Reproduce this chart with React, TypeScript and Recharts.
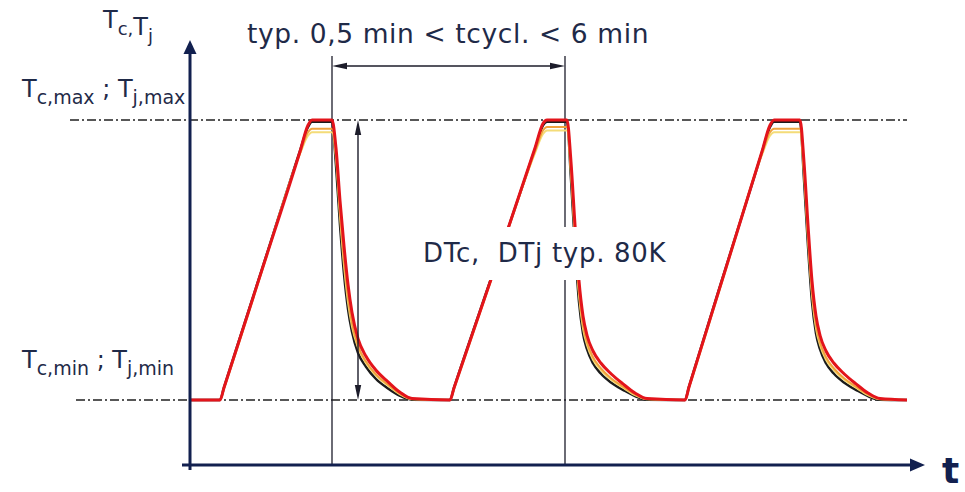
import type { ReactElement } from 'react'
import { LineChart, Line, XAxis, YAxis, ReferenceLine, ReferenceArea, ReferenceDot } from 'recharts'

// time in s, temperature in °C (Tmin = 40, Tmax = 120 -> DT 80K)
const TIME = [
  0, 15, 17, 36, 55, 59, 61, 71, 73, 75, 77, 79, 81, 84, 88, 93, 99, 105, 111,
  130, 132, 151, 172.5, 176.5, 178.5, 188.5, 190.5, 192.5, 194.5, 196.5, 198.5, 201.5, 205.5, 210.5, 216.5, 222.5, 228.5,
  247.5, 249.5, 268, 286, 290, 292, 305, 307, 309, 311, 313, 315, 318, 322, 327, 333, 339, 345, 358.5,
]

const T_BLACK = [
  40, 40, 43.6, 77.4, 111.2, 118, 119.5, 119.5, 107, 90, 76, 66, 59.5, 53.5, 49.5, 46, 43.3, 41.2, 40.1,
  40, 43.5, 75.5, 111.7, 118.5, 119.5, 119.5, 103, 84, 68, 59, 54.5, 50.5, 47.5, 45, 42.9, 41.1, 40.1,
  40, 43.8, 78, 110.8, 118, 119.5, 119.5, 103, 84, 68, 59, 54.5, 50.5, 47.5, 45, 42.9, 41.1, 40.1, 40,
]

const T_YELLOW = [
  40, 40, 43.3, 76.8, 110.3, 115.5, 116.5, 116.5, 109, 92.5, 78.5, 68, 61, 55, 50.5, 47, 44.1, 41.6, 40.2,
  40, 43.2, 75, 110.5, 116, 117, 117, 104.5, 86, 70, 60.5, 55.7, 51.5, 48.5, 45.8, 43.5, 41.4, 40.2,
  40, 43.5, 77.4, 110, 115.5, 116.5, 116.5, 104.5, 86, 70, 60.5, 55.7, 51.5, 48.5, 45.8, 43.5, 41.4, 40.2, 40,
]

const T_ORANGE = [
  40, 40, 43.4, 77, 110.5, 116.5, 117.5, 117.5, 110, 94, 80, 69.5, 62, 55.5, 51, 47.3, 44.4, 41.8, 40.3,
  40, 43.3, 75.1, 111, 117, 118, 118, 105.5, 87, 71, 61.5, 56.5, 52.2, 49, 46.2, 43.8, 41.6, 40.3,
  40, 43.6, 77.6, 110.5, 116.5, 117.5, 117.5, 105.5, 87, 71, 61.5, 56.5, 52.2, 49, 46.2, 43.8, 41.6, 40.3, 40,
]

const T_RED = [
  40, 40, 43.5, 77.2, 111, 118.5, 120, 120, 112, 97, 84, 73, 65, 57.5, 52.5, 48.5, 45.2, 42.2, 40.4,
  40, 43.4, 75.3, 112, 119, 120, 120, 108, 90, 74, 64, 58.5, 54, 50.5, 47.5, 44.6, 42, 40.4,
  40, 43.7, 77.8, 111, 118.5, 120, 120, 108, 90, 74, 64, 58.5, 54, 50.5, 47.5, 44.6, 42, 40.4, 40,
]

const T_MIN = 40
const T_MAX = 120
const CYCLE_START = 71
const CYCLE_END = 187.5

const INK = '#1f2a48'
const AXIS = '#12204f'
const GUIDE = '#1c1c2a'
const FONT = '"DejaVu Sans", Verdana, sans-serif'

const data = TIME.map((t, i) => ({
  t,
  black: T_BLACK[i],
  yellow: T_YELLOW[i],
  orange: T_ORANGE[i],
  red: T_RED[i],
}))

// line with filled arrow head(s), used as ReferenceLine shape
function arrowShape(head: number, half: number, both: boolean, color: string, width: number) {
  return (p: any) => {
    const { x1, y1, x2, y2 } = p
    const len = Math.hypot(x2 - x1, y2 - y1) || 1
    const ux = (x2 - x1) / len
    const uy = (y2 - y1) / len
    const nx = -uy
    const ny = ux
    const tri = (tx: number, ty: number, dx: number, dy: number) =>
      `${tx},${ty} ${tx - dx * head + nx * half},${ty - dy * head + ny * half} ${tx - dx * head - nx * half},${ty - dy * head - ny * half}`
    return (
      <g>
        <line
          x1={both ? x1 + ux * head * 0.7 : x1}
          y1={both ? y1 + uy * head * 0.7 : y1}
          x2={x2 - ux * head * 0.7}
          y2={y2 - uy * head * 0.7}
          stroke={color}
          strokeWidth={width}
        />
        <polygon points={tri(x2, y2, ux, uy)} fill={color} />
        {both && <polygon points={tri(x1, y1, -ux, -uy)} fill={color} />}
      </g>
    )
  }
}

// text placed at a data point
const textAt = (render: (x: number, y: number) => ReactElement) => (p: any) => render(p.cx, p.cy)

const subLabel = (a: string, sa: string, b: string, sb: string, size: number, subSize: number, sep: string) =>
  (x: number, y: number) => (
    <text x={x} y={y} fontFamily={FONT} fontSize={size} fill={INK} style={{ whiteSpace: 'pre' }}>
      <tspan>{a}</tspan>
      <tspan dy={7} fontSize={subSize}>{sa}</tspan>
      <tspan dy={-7}>{sep}</tspan>
      <tspan>{b}</tspan>
      <tspan dy={7} fontSize={subSize}>{sb}</tspan>
    </text>
  )

export default function App(): ReactElement {
  return (
    <div style={{ position: 'absolute', left: 0, top: 0, background: '#fff' }}>
      <LineChart width={965} height={492} data={data} margin={{ top: 0, right: 0, bottom: 0, left: 0 }}>
        <XAxis dataKey="t" type="number" domain={[-95, 387.5]} allowDataOverflow hide />
        <YAxis type="number" domain={[13.7142857, 154.2857143]} allowDataOverflow hide />

        {/* Tmax / Tmin dash-dot levels */}
        <ReferenceLine segment={[{ x: -60, y: T_MAX }, { x: 358.5, y: T_MAX }]} stroke="#202020" strokeWidth={1.4} strokeDasharray="9 3 2 3" ifOverflow="visible" />
        <ReferenceLine segment={[{ x: -57, y: T_MIN }, { x: 358.5, y: T_MIN }]} stroke="#202020" strokeWidth={1.4} strokeDasharray="9 3 2 3" ifOverflow="visible" />

        {/* cycle markers */}
        <ReferenceLine segment={[{ x: CYCLE_START, y: 138.3 }, { x: CYCLE_START, y: 21.43 }]} stroke={GUIDE} strokeWidth={1.3} ifOverflow="visible" />
        <ReferenceLine segment={[{ x: CYCLE_END, y: 138.3 }, { x: CYCLE_END, y: 21.43 }]} stroke={GUIDE} strokeWidth={1.3} ifOverflow="visible" />

        <Line dataKey="black" type="monotone" stroke="#1b1b1b" strokeWidth={2.5} dot={false} activeDot={false} isAnimationActive={false} />
        <Line dataKey="yellow" type="monotone" stroke="#f4dc78" strokeWidth={2} dot={false} activeDot={false} isAnimationActive={false} />
        <Line dataKey="orange" type="monotone" stroke="#f0a23c" strokeWidth={2} dot={false} activeDot={false} isAnimationActive={false} />
        <Line dataKey="red" type="monotone" stroke="#e3141b" strokeWidth={3} dot={false} activeDot={false} isAnimationActive={false} />

        {/* axes with arrows */}
        <ReferenceLine segment={[{ x: 0, y: 20 }, { x: 0, y: 142.86 }]} ifOverflow="visible" shape={arrowShape(14, 6.5, false, AXIS, 3)} />
        <ReferenceLine segment={[{ x: -4, y: 21.43 }, { x: 367.5, y: 21.43 }]} ifOverflow="visible" shape={arrowShape(15, 6.5, false, AXIS, 3)} />

        {/* cycle time and DT arrows */}
        <ReferenceLine segment={[{ x: CYCLE_START, y: 135.43 }, { x: CYCLE_END, y: 135.43 }]} ifOverflow="visible" shape={arrowShape(15, 3.2, true, GUIDE, 1.4)} />
        <ReferenceLine segment={[{ x: 84, y: T_MAX }, { x: 84, y: T_MIN }]} ifOverflow="visible" shape={arrowShape(15, 3.2, true, GUIDE, 1.4)} />

        <ReferenceArea x1={107.5} x2={245} y1={74.3} y2={89.4} fill="#fff" fillOpacity={1} stroke="none" ifOverflow="visible" zIndex={1200} />

        <ReferenceDot x={-43.5} y={146.3} r={0} ifOverflow="visible" zIndex={1300}
          shape={textAt(subLabel('T', 'c,', 'T', 'j', 24, 18, ''))} />
        <ReferenceDot x={-84} y={126.6} r={0} ifOverflow="visible" zIndex={1300}
          shape={textAt(subLabel('T', 'c,max', 'T', 'j,max', 24, 19, ' ; '))} />
        <ReferenceDot x={-84} y={49.1} r={0} ifOverflow="visible" zIndex={1300}
          shape={textAt(subLabel('T', 'c,min', 'T', 'j,min', 24, 19, ' ; '))} />
        <ReferenceDot x={28.5} y={142} r={0} ifOverflow="visible" zIndex={1300}
          shape={textAt((x, y) => (
            <text x={x} y={y} fontFamily={FONT} fontSize={26.5} letterSpacing={0.6} fill={INK}>typ. 0,5 min &lt; tcycl. &lt; 6 min</text>
          ))} />
        <ReferenceDot x={116.5} y={79.4} r={0} ifOverflow="visible" zIndex={1300}
          shape={textAt((x, y) => (
            <text x={x} y={y} fontFamily={FONT} fontSize={26} letterSpacing={0.7} fill={INK} style={{ whiteSpace: 'pre' }}>{'DTc,  DTj typ. 80K'}</text>
          ))} />
        <ReferenceDot x={376} y={16.29} r={0} ifOverflow="visible" zIndex={1300}
          shape={textAt((x, y) => (
            <text x={x} y={y} fontFamily={FONT} fontSize={36} fontWeight="bold" fill={AXIS}>t</text>
          ))} />
      </LineChart>
    </div>
  )
}
